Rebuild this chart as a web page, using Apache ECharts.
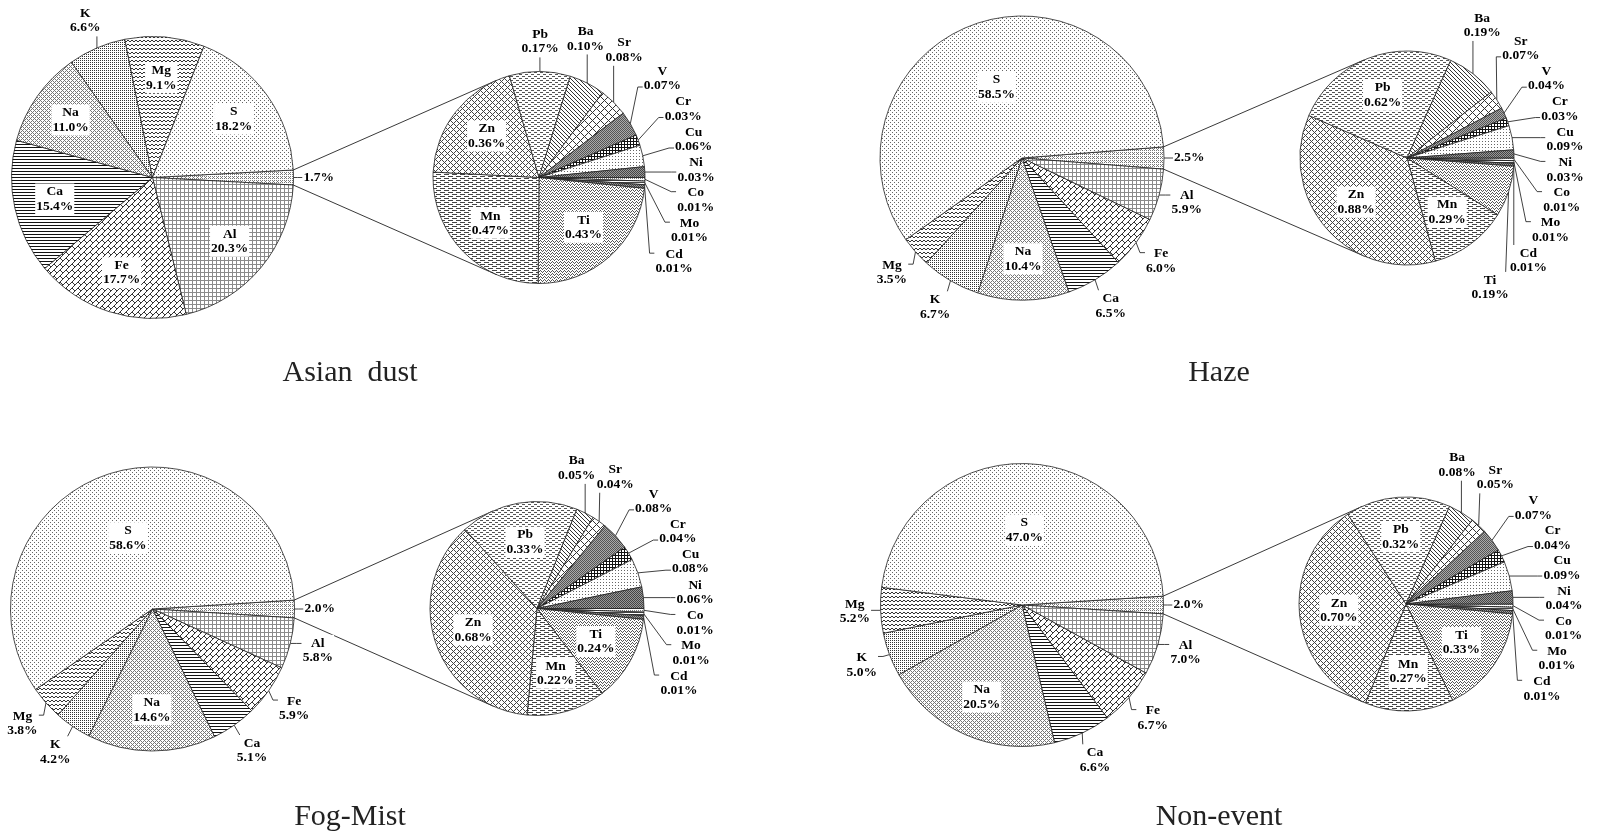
<!DOCTYPE html>
<html><head><meta charset="utf-8">
<script src="https://cdn.jsdelivr.net/npm/echarts@6/dist/echarts.min.js"></script>
<style>html,body{margin:0;padding:0;background:#fff;}#c{width:1618px;height:835px;}</style>
</head><body><div id="c"></div>
<script>
// ---------------- DATA ----------------
const titles = ['Asian  dust', 'Haze', 'Fog-Mist', 'Non-event'];
const mainCategories = ['Other', 'Al', 'Fe', 'Ca', 'Na', 'K', 'Mg', 'S'];
const asianMain = [1.7, 20.3, 17.7, 15.4, 11.0, 6.6, 9.1, 18.2];
const hazeMain  = [2.5, 5.9, 6.0, 6.5, 10.4, 6.7, 3.5, 58.5];
const fogMain   = [2.0, 5.8, 5.9, 5.1, 14.6, 4.2, 3.8, 58.6];
const nonMain   = [2.0, 7.0, 6.7, 6.6, 20.5, 5.0, 5.2, 47.0];
const subCategories = ['Co', 'Mo', 'Cd', 'Ti', 'Mn', 'Zn', 'Pb', 'Ba', 'Sr', 'V', 'Cr', 'Cu', 'Ni'];
const asianSub = [0.01, 0.01, 0.01, 0.43, 0.47, 0.36, 0.17, 0.10, 0.08, 0.07, 0.03, 0.06, 0.03];
const hazeSub  = [0.01, 0.01, 0.01, 0.19, 0.29, 0.88, 0.62, 0.19, 0.07, 0.04, 0.03, 0.09, 0.03];
const fogSub   = [0.01, 0.01, 0.01, 0.24, 0.22, 0.68, 0.33, 0.05, 0.04, 0.08, 0.04, 0.08, 0.06];
const nonSub   = [0.01, 0.01, 0.01, 0.33, 0.27, 0.70, 0.32, 0.08, 0.05, 0.07, 0.04, 0.09, 0.04];

// ---------------- LAYOUT / STYLE ----------------
const panels = [
  { title: titles[0], main: asianMain, sub: asianSub, mc: [152.5, 177.5], mr: 141, sc: [539, 177.5], sr: 106, tp: [350, 358],
    mainInside: ['Al', 'Fe', 'Ca', 'Na', 'Mg', 'S'], subInside: ['Ti', 'Mn', 'Zn'] },
  { title: titles[1], main: hazeMain, sub: hazeSub, mc: [1022, 158], mr: 142, sc: [1407, 158], sr: 107, tp: [1219, 358],
    mainInside: ['Na', 'S'], subInside: ['Pb', 'Zn', 'Mn'] },
  { title: titles[2], main: fogMain, sub: fogSub, mc: [152.5, 609], mr: 142, sc: [537, 608.5], sr: 107, tp: [350, 802],
    mainInside: ['Na', 'S'], subInside: ['Pb', 'Zn', 'Ti', 'Mn'] },
  { title: titles[3], main: nonMain, sub: nonSub, mc: [1022, 605], mr: 141.5, sc: [1406, 604], sr: 107, tp: [1219, 802],
    mainInside: ['Na', 'S'], subInside: ['Pb', 'Zn', 'Ti', 'Mn'] }
];

const FONT_FAMILY = 'Liberation Serif';
const FONT_SIZE = 13.5, LINE_H = 14.5, PAD = [1, 1];
const mctx = document.createElement('canvas').getContext('2d');
mctx.font = 'bold ' + FONT_SIZE + 'px "' + FONT_FAMILY + '"';
const tw = s => mctx.measureText(s).width;

function pat(w, h, fg, bg, fn) {
  const c = document.createElement('canvas'); c.width = w; c.height = h;
  const ctx = c.getContext('2d');
  ctx.fillStyle = bg; ctx.fillRect(0, 0, w, h);
  ctx.fillStyle = fg;
  for (let y = 0; y < h; y++) for (let x = 0; x < w; x++) if (fn(x, y)) ctx.fillRect(x, y, 1, 1);
  return { image: c, repeat: 'repeat' };
}
const mainPat = {
  Other: pat(4, 4, '#777', '#fff', (x, y) => (x + y) % 2 === 0 && y % 2 === 0 || (x === 1 && y === 1)),
  Al: pat(4, 4, '#8a8a8a', '#fff', (x, y) => x === 0 || y === 0),
  Fe: pat(6, 6, '#333', '#fff', (x, y) => (x + y) % 6 === 5 || (x === y && x < 3)),
  Ca: pat(1, 3, '#111', '#fff', (x, y) => y === 0),
  Na: pat(4, 4, '#777', '#fff', (x, y) => (x + y) % 4 === 0 || (x - y + 4) % 4 === 0),
  K: pat(2, 2, '#333', '#fff', (x, y) => x === 0 && y === 0),
  Mg: pat(4, 4, '#333', '#fff', (x, y) => y === [0, 1, 1, 0][x]),
  S: pat(4, 4, '#666', '#fff', (x, y) => (x === 0 && y === 0) || (x === 2 && y === 2))
};
const subPat = {
  Co: pat(2, 2, '#777', '#fff', (x, y) => x === 0 && y === 0),
  Mo: pat(1, 2, '#444', '#fff', (x, y) => y === 0),
  Cd: pat(2, 2, '#444', '#999', (x, y) => (x + y) % 2 === 0),
  Ti: pat(4, 3, '#555', '#fff', (x, y) => y === [0, 1, 2, 1][x]),
  Mn: pat(8, 4, '#444', '#fff', (x, y) => (y === 0 && x < 5) || (y === 2 && (x >= 4 || x < 1))),
  Zn: pat(6, 6, '#444', '#fff', (x, y) => (x + y) % 6 === 0 || (x - y + 6) % 6 === 0),
  Pb: pat(6, 4, '#555', '#fff', (x, y) => (y === 0 && x < 3) || (y === 2 && x >= 3)),
  Ba: pat(4, 4, '#333', '#fff', (x, y) => (x - y + 4) % 4 === 0),
  Sr: pat(8, 8, '#333', '#fff', (x, y) => (x + y) % 8 === 0 || (x - y + 8) % 8 === 0),
  V: pat(2, 2, '#555', '#aaa', (x, y) => (x + y) % 2 === 0),
  Cr: pat(3, 3, '#111', '#fff', (x, y) => x === 0 || y === 0),
  Cu: pat(3, 3, '#666', '#fff', (x, y) => x === 0 && y === 0),
  Ni: pat(2, 2, '#444', '#999', (x, y) => (x + y) % 2 === 0)
};

// ---------------- LABEL LAYOUT (computed from data + layout) ----------------
function sliceAngles(values, startAngle) {
  const total = values.reduce((a, b) => a + b, 0);
  let a = startAngle; const res = [];
  for (const v of values) { const span = v / total * 360; res.push({ start: a, end: a - span, mid: a - span / 2 }); a -= span; }
  return res;
}
const rad = d => d * Math.PI / 180;
function placeOut(it, C, R, gap) {
  const t = rad(it.theta), c = Math.cos(t), s = Math.sin(t);
  const he = Math.abs(c) * it.w / 2 + Math.abs(s) * it.h / 2;
  const g = gap[0] + gap[1] * Math.abs(c);
  const d = R + g + he;
  return [C[0] + d * c, C[1] - d * s];
}
function spread(items, C, R, gap, upMax) {
  items.sort((a, b) => b.theta - a.theta);
  items.forEach(it => { it.max = it.theta + upMax; });
  for (let k = 0; k < 1500; k++) {
    let moved = false;
    for (let i = 0; i < items.length - 1; i++) {
      const A = items[i], B = items[i + 1];
      const pa = placeOut(A, C, R, gap), pb = placeOut(B, C, R, gap);
      const ox = (A.w + B.w) / 2 - 1 - Math.abs(pa[0] - pb[0]);
      const oy = (A.h + B.h) / 2 - 1 - Math.abs(pa[1] - pb[1]);
      if (ox > 0 && oy > 0) {
        if (A.theta < A.max) { A.theta += 0.25; B.theta -= 0.25; } else { B.theta -= 0.5; }
        moved = true;
      }
    }
    if (!moved) break;
  }
}
const clamp = (v, a, b) => Math.max(a, Math.min(b, v));
function leader(S, P, w, h) {
  const l = P[0] - w / 2, r = P[0] + w / 2, t = P[1] - h / 2, b = P[1] + h / 2;
  if (S[0] < l - 3) { const y = clamp(S[1], t + 7, b - 7); return [S, [l - 5, y], [l, y]]; }
  if (S[0] > r + 3) { const y = clamp(S[1], t + 7, b - 7); return [S, [r + 5, y], [r, y]]; }
  const x = clamp(S[0], l + 4, r - 4); const y = S[1] < t ? t : b;
  return [S, [x, y], [x, y]];
}
function labelText(name, v, isSub) {
  if (name === 'Other') return v.toFixed(1) + '%';
  return name + '\n' + v.toFixed(isSub ? 2 : 1) + '%';
}
function computeLabels(names, values, startAngle, C, R, insideSet, insideF, gap, upMax, isSub) {
  const ang = sliceAngles(values, startAngle);
  const out = [], res = [];
  names.forEach((n, i) => {
    const txt = labelText(n, values[i], isSub);
    const lines = txt.split('\n');
    const w = Math.max(...lines.map(tw)) + PAD[1] * 2;
    const h = lines.length * LINE_H + PAD[0] * 2;
    const m = ang[i].mid;
    if (insideSet.includes(n)) {
      const f = insideF(values[i]);
      res[i] = { x: C[0] + f * R * Math.cos(rad(m)), y: C[1] - f * R * Math.sin(rad(m)) };
    } else {
      let th = m; while (th > 180) th -= 360; while (th <= -180) th += 360;
      out.push({ i, w, h, theta: th, mid: m });
    }
  });
  spread(out, C, R, gap, upMax);
  out.forEach(it => {
    const P = placeOut(it, C, R, gap);
    const S = [C[0] + R * Math.cos(rad(it.mid)), C[1] - R * Math.sin(rad(it.mid))];
    res[it.i] = { x: P[0], y: P[1], line: leader(S, P, it.w, it.h) };
  });
  return res;
}

// ---------------- BUILD OPTION ----------------
const series = [], layouts = [], graphics = [], titleOpts = [];
const labelStyle = {
  show: true, fontFamily: FONT_FAMILY, fontWeight: 'bold', fontSize: FONT_SIZE, lineHeight: LINE_H,
  color: '#000', backgroundColor: '#fff', padding: PAD, position: 'outside'
};
function tangentPoint(P, C, r, upper) {
  const dx = P[0] - C[0], dy = P[1] - C[1];
  const d = Math.hypot(dx, dy), phi = Math.atan2(dy, dx), al = Math.acos(r / d);
  const c1 = [C[0] + r * Math.cos(phi + al), C[1] + r * Math.sin(phi + al)];
  const c2 = [C[0] + r * Math.cos(phi - al), C[1] + r * Math.sin(phi - al)];
  if (upper) return c1[1] < c2[1] ? c1 : c2;
  return c1[1] > c2[1] ? c1 : c2;
}

panels.forEach(p => {
  const otherSpan = p.main[0] / p.main.reduce((a, b) => a + b, 0) * 360;
  const mainStart = otherSpan / 2;
  const subStart = 0;
  const mIdx = series.length;
  layouts[mIdx] = computeLabels(mainCategories, p.main, mainStart, p.mc, p.mr, p.mainInside,
    v => (v > 40 ? 0.53 : 0.71), [9, 0], 4, false);
  series.push({
    type: 'pie', center: p.mc, radius: p.mr, startAngle: mainStart, clockwise: true,
    avoidLabelOverlap: false, silent: true, animation: false, z: 3,
    itemStyle: { borderColor: '#222', borderWidth: 0.8 },
    label: Object.assign({}, labelStyle, { formatter: q => labelText(q.name, q.value, false) }),
    labelLine: { show: true, lineStyle: { color: '#111', width: 0.8 } },
    labelLayout: q => layoutFor(q),
    data: mainCategories.map((n, i) => {
      const inside = p.mainInside.includes(n);
      return { name: n, value: p.main[i], itemStyle: { color: mainPat[n] },
        label: inside ? { position: 'inside' } : {}, labelLine: { show: !inside } };
    })
  });
  const sIdx = series.length;
  layouts[sIdx] = computeLabels(subCategories, p.sub, subStart, p.sc, p.sr, p.subInside,
    () => 0.63, [14, 17], 11, true);
  series.push({
    type: 'pie', center: p.sc, radius: p.sr, startAngle: subStart, clockwise: true,
    avoidLabelOverlap: false, silent: true, animation: false, z: 3,
    itemStyle: { borderColor: '#222', borderWidth: 0.8 },
    label: Object.assign({}, labelStyle, { formatter: q => labelText(q.name, q.value, true) }),
    labelLine: { show: true, lineStyle: { color: '#111', width: 0.8 } },
    labelLayout: q => layoutFor(q),
    data: subCategories.map((n, i) => {
      const inside = p.subInside.includes(n);
      return { name: n, value: p.sub[i], itemStyle: { color: subPat[n] },
        label: inside ? { position: 'inside' } : {}, labelLine: { show: !inside } };
    })
  });
  const a = rad(otherSpan / 2);
  const Pt = [p.mc[0] + p.mr * Math.cos(a), p.mc[1] - p.mr * Math.sin(a)];
  const Pb = [p.mc[0] + p.mr * Math.cos(a), p.mc[1] + p.mr * Math.sin(a)];
  const Tt = tangentPoint(Pt, p.sc, p.sr, true), Tb = tangentPoint(Pb, p.sc, p.sr, false);
  [[Pt, Tt], [Pb, Tb]].forEach(([A, B]) => graphics.push({
    type: 'line', z: 1, silent: true,
    shape: { x1: A[0], y1: A[1], x2: B[0], y2: B[1] },
    style: { stroke: '#222', lineWidth: 0.9 }
  }));
  titleOpts.push({
    text: p.title, left: p.tp[0], top: p.tp[1], textAlign: 'center', padding: 0,
    textStyle: { fontFamily: FONT_FAMILY, fontWeight: 'normal', fontSize: 30, color: '#222' }
  });
});
function layoutFor(q) {
  const L = layouts[q.seriesIndex] && layouts[q.seriesIndex][q.dataIndex];
  if (!L) return {};
  const o = { x: L.x, y: L.y, align: 'center', verticalAlign: 'middle' };
  if (L.line) o.labelLinePoints = L.line;
  return o;
}

const chart = echarts.init(document.getElementById('c'), null, { renderer: 'canvas' });
chart.setOption({
  backgroundColor: '#fff',
  animation: false,
  title: titleOpts,
  graphic: { elements: graphics },
  series: series
});
</script></body></html>
